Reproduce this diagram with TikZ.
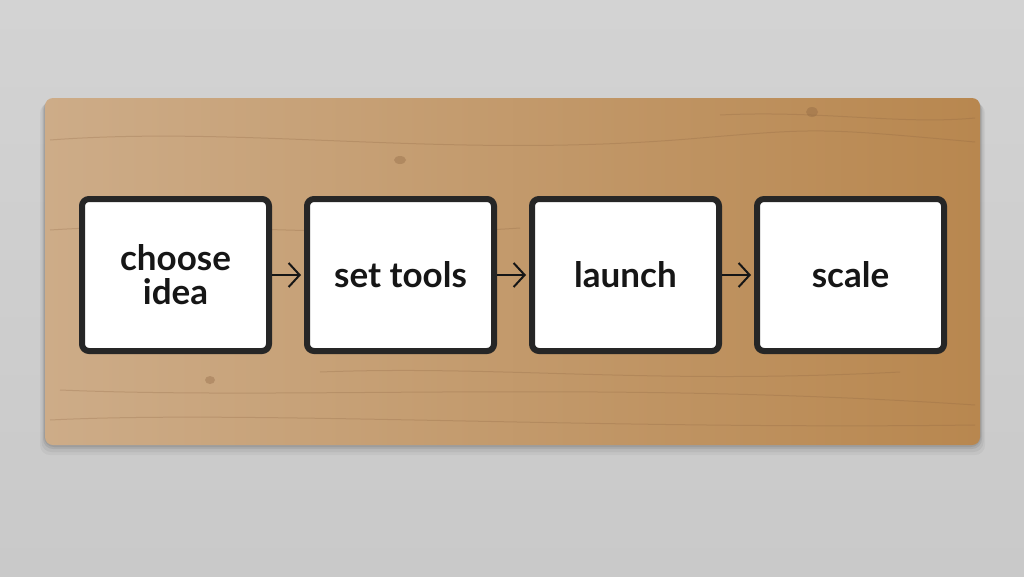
\documentclass[tikz,border=0pt]{standalone}
\usepackage{fontspec}
\setmainfont{Lato}
\usetikzlibrary{positioning,shadows,arrows.meta}
\definecolor{wall}{HTML}{D3D3D3}
\definecolor{wallLow}{HTML}{C9C9C9}
\definecolor{woodL}{HTML}{CDAC88}
\definecolor{woodR}{HTML}{B8874F}
\definecolor{grain}{HTML}{8A6240}
\definecolor{cardline}{HTML}{262626}
\definecolor{ink}{HTML}{161616}
\begin{document}
\begin{tikzpicture}[x=1pt,y=-1pt,
  card/.style={draw=cardline, line width=6pt, fill=white, rounded corners=7pt,
    minimum width=187pt, minimum height=152pt, align=center, text=ink,
    font=\fontsize{35}{34}\selectfont\bfseries,
    drop shadow={shadow xshift=1pt, shadow yshift=-2pt, opacity=.35}},
  link/.style={-{Straight Barb[length=11pt,width=24pt]}, line width=2pt, draw=ink, shorten >=3pt},
  node distance=32pt]
  % wall
  \shade[top color=wall, bottom color=wallLow] (0,0) rectangle (1024,576);
  \useasboundingbox (0,0) rectangle (1024,576);
  % board
  \foreach \s/\o in {10/.04,7/.05,4/.07,2/.08}
    \fill[black, opacity=\o, rounded corners=10pt] (45-\s/2,98+\s/2) rectangle (980+\s/2,445+\s);
  \shade[left color=woodL, right color=woodR, rounded corners=8pt] (45,98) rectangle (980,445);
  % grain
  \begin{scope}[draw=grain, opacity=.25, line width=1pt]
    \draw (50,140) .. controls (250,125) and (450,160) .. (700,138) .. controls (820,128) .. (975,142);
    \draw (50,230) .. controls (200,220) and (350,240) .. (520,228);
    \draw (60,390) .. controls (300,400) and (600,380) .. (975,405);
    \draw (50,420) .. controls (250,410) and (600,430) .. (975,425);
    \draw (320,372) .. controls (500,365) and (650,385) .. (900,372);
    \draw (720,115) .. controls (820,110) and (900,125) .. (975,118);
  \end{scope}
  \fill[grain, opacity=.35] (400,160) ellipse (6pt and 4pt);
  \fill[grain, opacity=.35] (812,112) ellipse (6pt and 5pt);
  \fill[grain, opacity=.35] (210,380) ellipse (5pt and 4pt);
  % steps
  \node[card] (choose) at (175.5,275) {choose\\idea};
  \node[card, right=of choose] (tools) {set tools};
  \node[card, right=of tools] (launch) {launch};
  \node[card, right=of launch] (scale) {scale};
  \path[link]
    (choose) edge (tools)
    (tools) edge (launch)
    (launch) edge (scale);
\end{tikzpicture}
\end{document}
